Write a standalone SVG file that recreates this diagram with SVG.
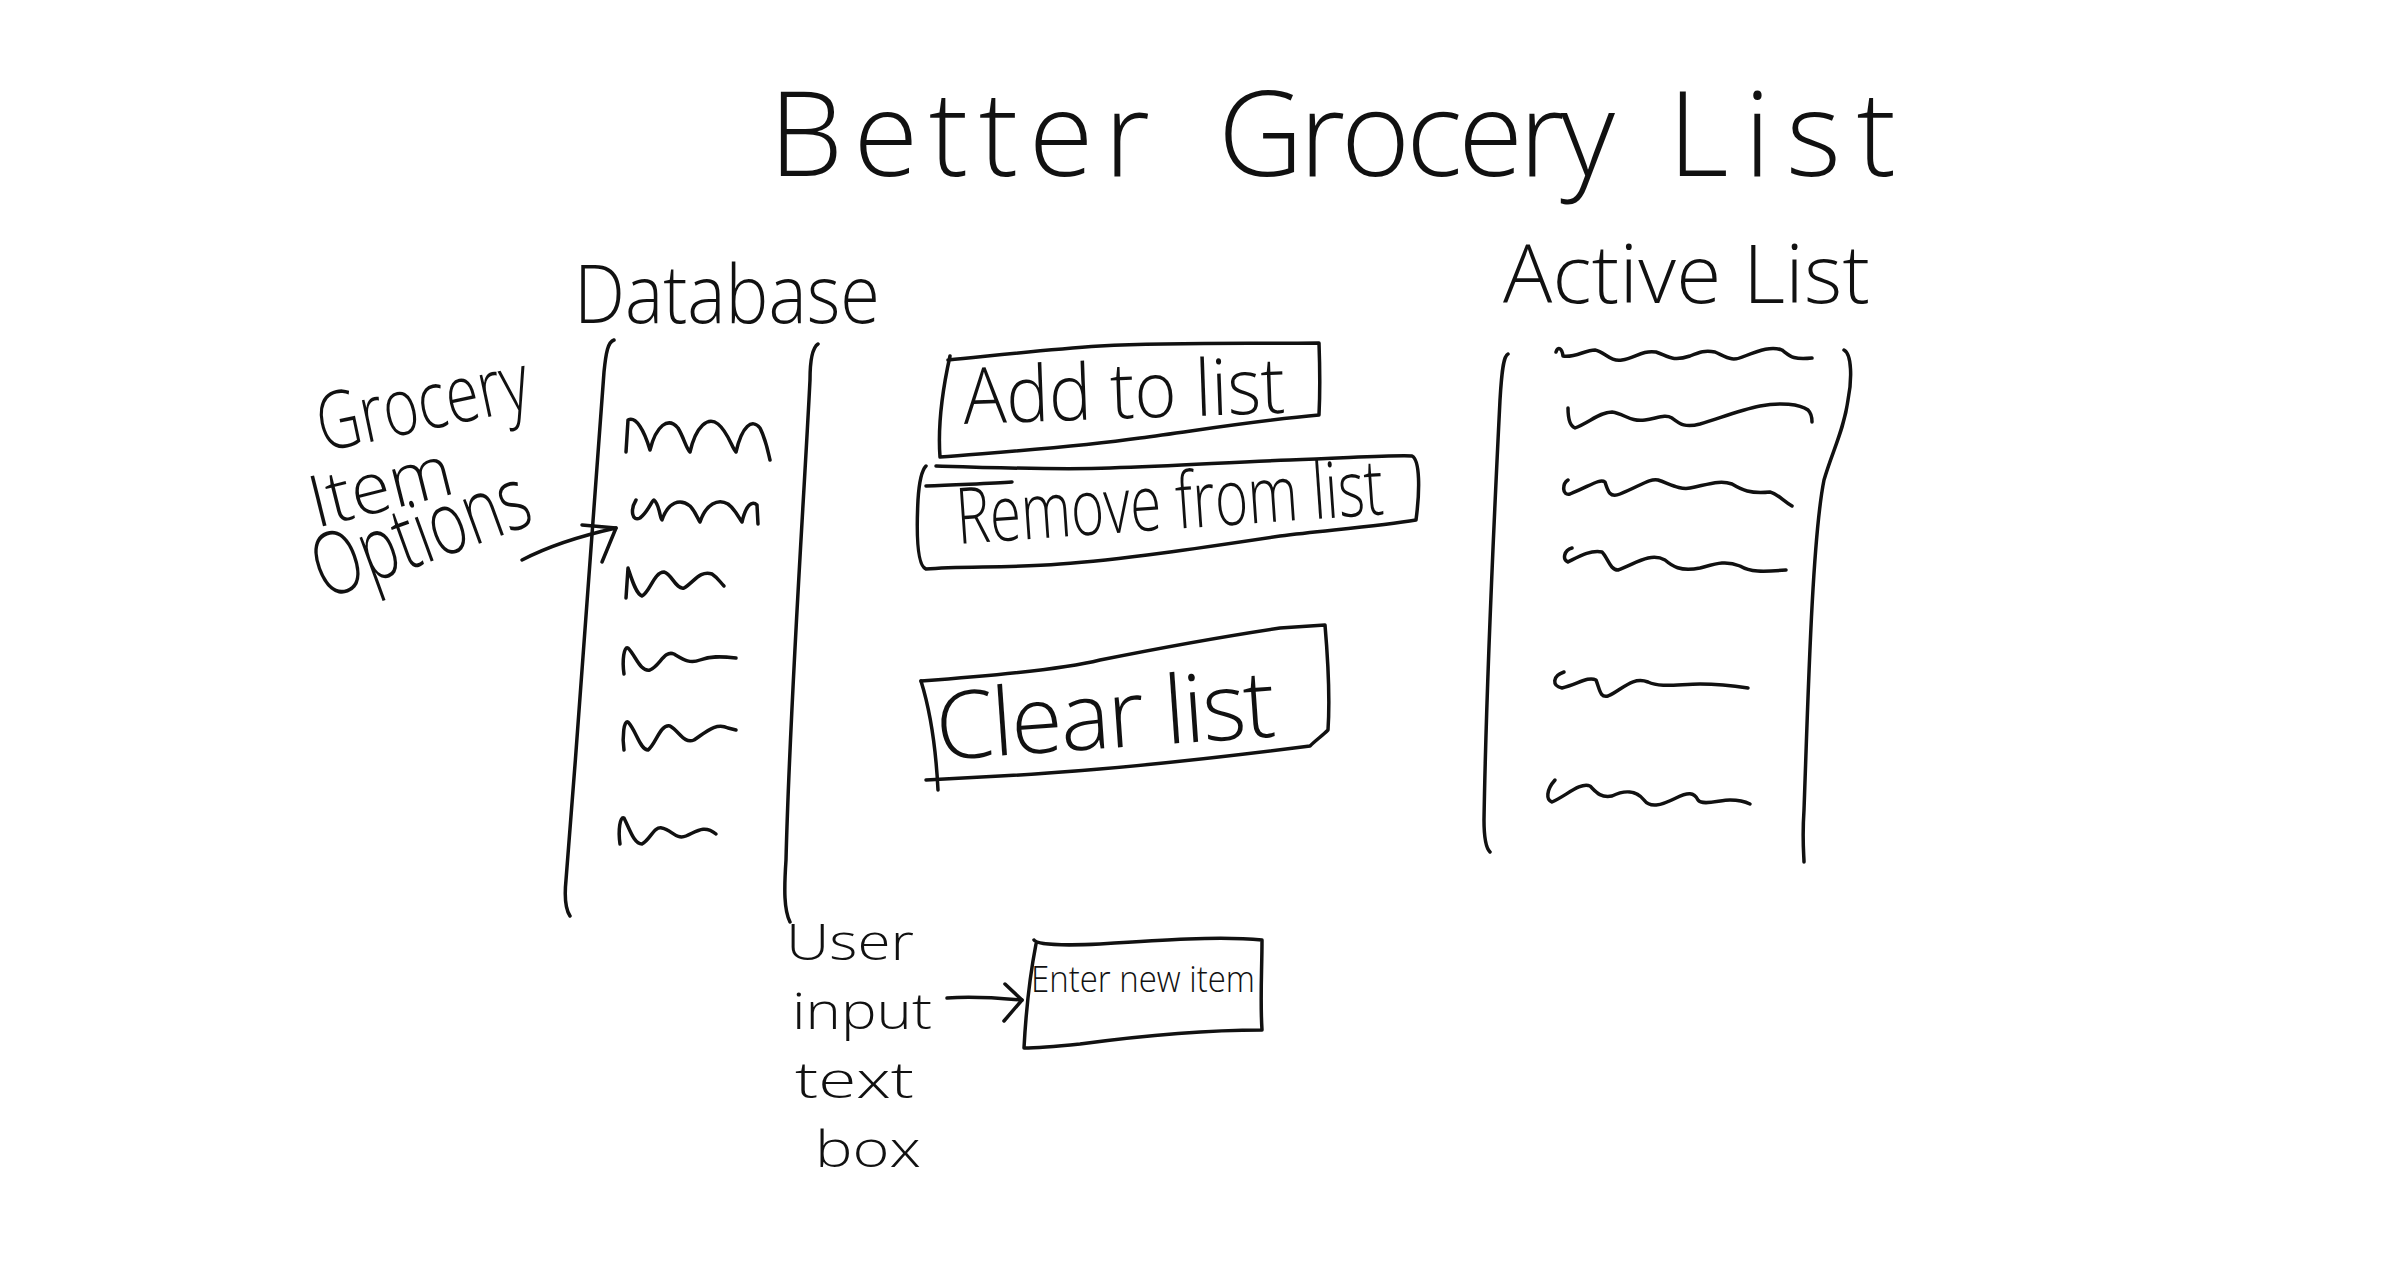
<svg xmlns="http://www.w3.org/2000/svg" width="2388" height="1261" viewBox="0 0 2388 1261">
<style>
.ink{fill:none;stroke:#111;stroke-width:3.5;stroke-linecap:round;stroke-linejoin:round}
.hw{font-family:"Open Sans","Liberation Sans",sans-serif;font-weight:300;fill:#111}
</style>
<rect width="2388" height="1261" fill="#fff"/>
<g id="title">
<text class="hw" font-size="118" y="176"><tspan x="769" textLength="381" lengthAdjust="spacing">Better</tspan><tspan x="1218" textLength="397" lengthAdjust="spacing">Grocery</tspan><tspan x="1668" textLength="228" lengthAdjust="spacing">List</tspan></text>
</g>
<g id="database">
<text class="hw" font-size="82" x="574" y="323" textLength="306" lengthAdjust="spacingAndGlyphs">Database</text>
<path class="ink" d="M614,340 C608,342 606,352 604,372 C596,500 580,700 566,880 C564,900 566,910 570,916"/>
<path class="ink" d="M818,344 C812,348 810,360 810,380 C804,500 790,700 786,860 C784,890 784,910 790,922"/>
<path class="ink" d="M626,452 L628,420 C636,416 644,430 650,450 C656,426 668,416 678,428 C684,438 686,448 690,452 C696,426 708,416 718,424 C728,432 732,448 736,452 C742,426 752,418 760,428 C766,440 768,452 770,460"/>
<path class="ink" d="M636,500 C630,510 632,522 640,518 C648,512 652,500 654,500 C660,505 660,520 662,520 C668,502 680,498 690,506 C696,512 698,520 700,522 C706,504 718,498 728,504 C736,510 740,520 742,522 C746,505 752,500 757,505 L758,524"/>
<path class="ink" d="M626,598 L628,568 C632,580 636,594 642,596 C650,592 654,572 664,572 C672,574 676,590 684,588 C694,582 700,570 712,574 C718,578 720,582 724,586"/>
<path class="ink" d="M624,674 C622,660 624,646 628,648 C636,656 640,672 650,670 C660,666 664,650 674,654 C684,660 690,664 700,660 C710,656 720,656 736,658"/>
<path class="ink" d="M624,750 C622,736 624,720 628,722 C636,730 640,750 648,750 C656,744 660,724 670,726 C680,732 684,744 694,740 C706,732 716,722 728,728 L736,730"/>
<path class="ink" d="M620,844 C618,830 620,816 624,818 C630,830 634,844 642,844 C650,840 654,826 662,828 C672,830 676,840 686,836 C696,832 704,824 716,834"/>
</g>
<g id="grocery-item-options">
<text class="hw" font-size="80" transform="rotate(-12 323 452)" x="323" y="452" textLength="215" lengthAdjust="spacingAndGlyphs">Grocery</text>
<text class="hw" font-size="72" transform="rotate(-14 316 528)" x="316" y="528" textLength="145" lengthAdjust="spacingAndGlyphs">Item</text>
<text class="hw" font-size="88" transform="rotate(-20 325 600)" x="325" y="600" textLength="225" lengthAdjust="spacingAndGlyphs">Options</text>
</g>
<g id="add-to-list">
<path class="ink" d="M948,360 C990,356 1040,350 1100,346 C1180,342 1250,344 1319,343 C1320,370 1320,395 1319,415 C1260,420 1200,430 1140,438 C1070,448 1000,452 940,457 C938,430 942,392 950,356"/>
<text class="hw" font-size="78" transform="rotate(-2 964 424)" x="964" y="424" textLength="322" lengthAdjust="spacingAndGlyphs">Add to list</text>
</g>
<g id="remove-from-list">
<path class="ink" d="M936,466 C1000,468 1060,470 1110,468 C1180,466 1230,462 1290,460 C1350,458 1390,455 1412,456 C1420,460 1420,490 1416,520 C1380,526 1330,530 1280,536 C1200,548 1120,560 1060,564 C1010,568 960,566 926,569 C918,566 916,540 918,500 C919,484 922,470 926,466"/>
<path class="ink" d="M926,486 C960,484 990,484 1012,482"/>
<text class="hw" font-size="78" transform="rotate(-4 958 544)" x="958" y="544" textLength="428" lengthAdjust="spacingAndGlyphs">Remove from list</text>
</g>
<g id="clear-list">
<path class="ink" d="M921,681 C990,676 1060,670 1100,660 C1160,648 1240,634 1280,628 L1325,625 C1328,660 1330,700 1328,730 C1322,736 1316,740 1310,746 C1200,760 1080,772 1000,776 L926,780"/>
<path class="ink" d="M921,681 C930,710 936,750 938,790"/>
<text class="hw" font-size="94" transform="rotate(-4 938 760)" x="938" y="760" textLength="340" lengthAdjust="spacing">Clear list</text>
</g>
<g id="active-list">
<text class="hw" font-size="82" x="1503" y="303" textLength="367" lengthAdjust="spacing">Active List</text>
<path class="ink" d="M1508,354 C1504,356 1502,366 1500,400 C1494,520 1486,700 1484,820 C1484,840 1486,848 1490,852"/>
<path class="ink" d="M1844,350 C1852,354 1852,380 1848,400 C1844,430 1832,452 1824,480 C1812,540 1808,700 1804,810 C1802,840 1804,856 1804,862"/>
<path class="ink" d="M1556,352 C1558,346 1562,348 1563,356 C1575,358 1585,350 1595,350 C1605,352 1610,362 1622,360 C1635,358 1642,350 1656,352 C1668,356 1672,362 1690,356 C1700,352 1705,350 1715,352 C1728,358 1732,362 1745,356 C1760,350 1772,346 1782,350 C1790,356 1792,360 1812,358"/>
<path class="ink" d="M1568,408 C1568,418 1570,426 1575,428 C1590,422 1600,412 1612,412 C1625,414 1630,422 1645,420 C1658,418 1665,414 1672,418 C1680,424 1685,428 1700,424 C1720,418 1740,410 1760,406 C1780,402 1800,404 1808,410 C1812,414 1812,418 1812,422"/>
<path class="ink" d="M1568,480 C1562,484 1562,496 1570,494 C1590,486 1600,478 1605,482 C1608,492 1610,498 1620,494 C1640,486 1650,478 1658,480 C1670,484 1680,490 1690,488 C1710,484 1720,480 1732,484 C1742,490 1750,494 1770,492 C1778,494 1782,500 1792,506"/>
<path class="ink" d="M1572,548 C1564,550 1562,560 1568,562 C1580,556 1590,550 1602,552 C1608,558 1610,570 1618,570 C1635,564 1650,552 1665,560 C1672,566 1680,572 1700,568 C1715,564 1725,560 1740,566 C1750,572 1762,572 1786,570"/>
<path class="ink" d="M1564,672 C1552,676 1552,686 1562,688 C1578,684 1588,676 1596,680 C1600,690 1600,698 1608,696 C1622,690 1632,676 1648,682 C1660,688 1680,684 1700,684 C1720,684 1735,686 1748,688"/>
<path class="ink" d="M1555,780 C1546,790 1546,800 1552,802 C1566,796 1580,782 1590,786 C1596,792 1600,798 1612,796 C1624,790 1636,790 1644,800 C1650,808 1660,806 1676,798 C1688,792 1694,792 1698,800 C1702,806 1720,800 1730,800 C1740,800 1746,802 1750,804"/>
</g>
<g id="user-input-text-box">
<text class="hw" font-size="50" x="786" y="960" textLength="128" lengthAdjust="spacingAndGlyphs">User</text>
<text class="hw" font-size="50" x="792" y="1029" textLength="140" lengthAdjust="spacingAndGlyphs">input</text>
<text class="hw" font-size="50" x="795" y="1098" textLength="119" lengthAdjust="spacingAndGlyphs">text</text>
<text class="hw" font-size="50" x="815" y="1167" textLength="106" lengthAdjust="spacingAndGlyphs">box</text>
</g>
<g id="enter-new-item">
<path class="ink" d="M1034,940 C1036,944 1060,946 1100,944 C1160,940 1220,936 1262,940 C1262,970 1260,1000 1262,1030 C1200,1030 1140,1036 1080,1044 C1060,1046 1040,1048 1024,1048 C1026,1010 1030,975 1036,944"/>
<text class="hw" font-size="36" x="1031" y="992" textLength="224" lengthAdjust="spacingAndGlyphs">Enter new item</text>
</g>
<g id="connectors">
<path class="ink" d="M522,560 C545,548 580,536 616,528"/>
<path class="ink" d="M582,525 L616,528 L602,562"/>
<path class="ink" d="M947,998 C970,996 1000,998 1022,1000"/>
<path class="ink" d="M1005,984 L1022,1000 L1004,1021"/>
</g>
</svg>
